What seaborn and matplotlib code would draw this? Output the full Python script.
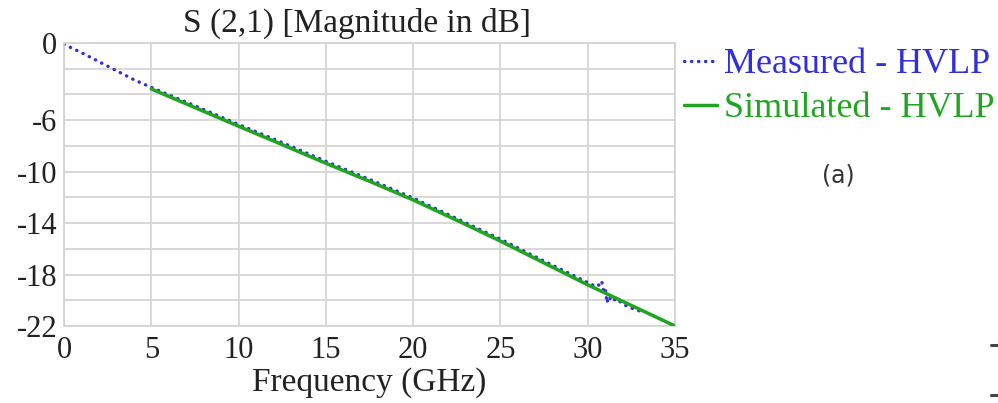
import matplotlib
matplotlib.use("Agg")
import matplotlib.pyplot as plt
import pandas as pd
import seaborn as sns
from matplotlib.lines import Line2D

# Measured S21 (dB) versus frequency (GHz)
meas_freq = [0, 1, 2, 3, 4, 5, 7.5, 10, 12.5, 15, 17.5, 20, 22.5, 25, 27.5,
             30, 30.5, 30.7, 30.8, 30.9, 31.0, 31.05, 31.1, 31.2, 31.3, 31.45,
             31.6, 31.8, 32.0, 32.5, 33.0]
meas_db = [-0.1, -0.75, -1.45, -2.15, -2.85, -3.45, -4.88, -6.33, -7.74, -9.2,
           -10.6, -12.05, -13.65, -15.25, -16.95, -18.62, -18.95, -18.75,
           -18.5, -19.2, -19.0, -19.6, -20.2, -19.7, -19.9, -19.75, -20.1,
           -20.05, -20.3, -20.6, -20.85]

# Simulated S21 (dB) versus frequency (GHz)
sim_freq = [5, 7.5, 10, 12.5, 15, 17.5, 20, 22.5, 25, 27.5, 30, 32.5, 35]
sim_db = [-3.57, -5.02, -6.47, -7.9, -9.35, -10.75, -12.2, -13.78, -15.4,
          -17.1, -18.8, -20.4, -22.0]

x_ticks = [0, 5, 10, 15, 20, 25, 30, 35]
y_labeled = [0, -6, -10, -14, -18, -22]
y_unlabeled = [-2, -4, -8, -12, -16, -20]

BLUE = "#2f2fdc"
GREEN = "#1fa61f"
GRID = "#d2d2d2"
TXT = "#222222"

sns.set_theme(style="white")
plt.rcParams["font.family"] = ["Liberation Serif", "DejaVu Serif"]
plt.rcParams["axes.unicode_minus"] = False

fig = plt.figure(figsize=(9.98, 4.03), dpi=100)
ax = fig.add_axes([64 / 998, 1 - 326 / 403, 611 / 998, 283 / 403])

df_meas = pd.DataFrame({"Frequency": meas_freq, "dB": meas_db})
df_sim = pd.DataFrame({"Frequency": sim_freq, "dB": sim_db})

sns.lineplot(data=df_sim, x="Frequency", y="dB", ax=ax, color=GREEN,
             linewidth=2.5, label="Simulated - HVLP", zorder=3)
sns.lineplot(data=df_meas, x="Frequency", y="dB", ax=ax, color=BLUE,
             linewidth=2.4, linestyle=(0, (0.1, 2.0)), dash_capstyle="round",
             label="Measured - HVLP", zorder=2)

ax.set_xlim(0, 35)
ax.set_ylim(-22, 0)
ax.set_xticks(x_ticks)
ax.set_xticklabels([str(t) for t in x_ticks])
ax.set_yticks(y_labeled)
ax.set_yticklabels([str(t) for t in y_labeled])
ax.set_yticks(y_unlabeled, minor=True)
ax.grid(True, which="both", color=GRID, linewidth=1.2)
ax.set_axisbelow(True)
for s in ax.spines.values():
    s.set_color(GRID)
    s.set_linewidth(1.2)
ax.tick_params(axis="both", which="both", length=0, labelsize=22,
               colors=TXT)
ax.tick_params(axis="y", pad=5)
ax.tick_params(axis="x", pad=7)

ax.set_xlabel("Frequency (GHz)", fontsize=24, color=TXT, labelpad=2)
ax.set_ylabel("")

fig.text(357 / 998, 1 - 23 / 403, "S (2,1) [Magnitude in dB]", fontsize=24,
         color=TXT, ha="center", va="center")

handles, labels = ax.get_legend_handles_labels()
order = [labels.index("Measured - HVLP"), labels.index("Simulated - HVLP")]
leg = ax.legend([handles[i] for i in order], [labels[i] for i in order],
                loc="upper left", bbox_to_anchor=(684 / 998, 1 - 48 / 403),
                bbox_transform=fig.transFigure, frameon=False, fontsize=26,
                handlelength=0.9, handletextpad=0.2, labelspacing=0.3,
                borderpad=0, borderaxespad=0)
for txt, col in zip(leg.get_texts(), [BLUE, GREEN]):
    txt.set_color(col)

fig.text(838 / 998, 1 - 176 / 403, "(a)", fontsize=17, color="#333333",
         family="DejaVu Sans", ha="center", va="center")

# small marks at the right edge
for yp in (345, 395):
    fig.add_artist(Line2D([991 / 998, 1.0], [1 - yp / 403] * 2,
                          transform=fig.transFigure, color="#444444",
                          linewidth=2.2))

fig.savefig("out.png", dpi=100)
